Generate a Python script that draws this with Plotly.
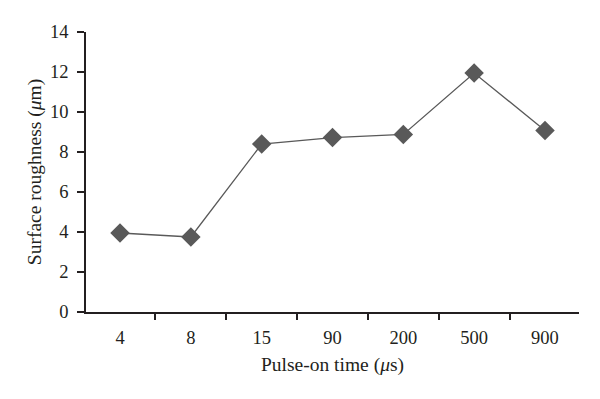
import plotly.graph_objects as go

categories = ["4", "8", "15", "90", "200", "500", "900"]
roughness = [3.95, 3.75, 8.4, 8.72, 8.88, 11.95, 9.08]
y_ticks = [0, 2, 4, 6, 8, 10, 12, 14]

fig = go.Figure()
fig.add_trace(go.Scatter(
    x=categories, y=roughness, mode="lines+markers",
    line=dict(color="#595959", width=1.3),
    marker=dict(symbol="diamond", size=15, color="#595959"),
    showlegend=False,
))

font = "Liberation Serif, Times New Roman, serif"
fig.update_layout(
    width=600, height=399,
    margin=dict(l=86, r=21, t=32, b=87, autoexpand=False),
    paper_bgcolor="white", plot_bgcolor="white",
    font=dict(family=font, size=18, color="#231f20"),
)
fig.update_xaxes(
    type="category", tickson="boundaries",
    showline=True, linecolor="#231f20", linewidth=1.5,
    ticks="outside", ticklen=6, tickcolor="#231f20", tickwidth=1.5,
    ticklabelstandoff=8,
    showgrid=False, zeroline=False,
    title=dict(text="Pulse-on time (<i>μ</i>s)", font=dict(size=19.5), standoff=10),
    tickfont=dict(size=18.5),
)
fig.update_yaxes(
    range=[0, 14], tickvals=y_ticks,
    showline=True, linecolor="#231f20", linewidth=1.5,
    ticks="outside", ticklen=7, tickcolor="#231f20", tickwidth=1.5,
    ticklabelstandoff=5,
    showgrid=False, zeroline=False,
    title=dict(text="Surface roughness (<i>μ</i>m)", font=dict(size=19.5), standoff=3),
    tickfont=dict(size=18.5),
)
fig.write_html("out.html", post_script="document.body.style.margin='0';",
               config={"displayModeBar": False})
